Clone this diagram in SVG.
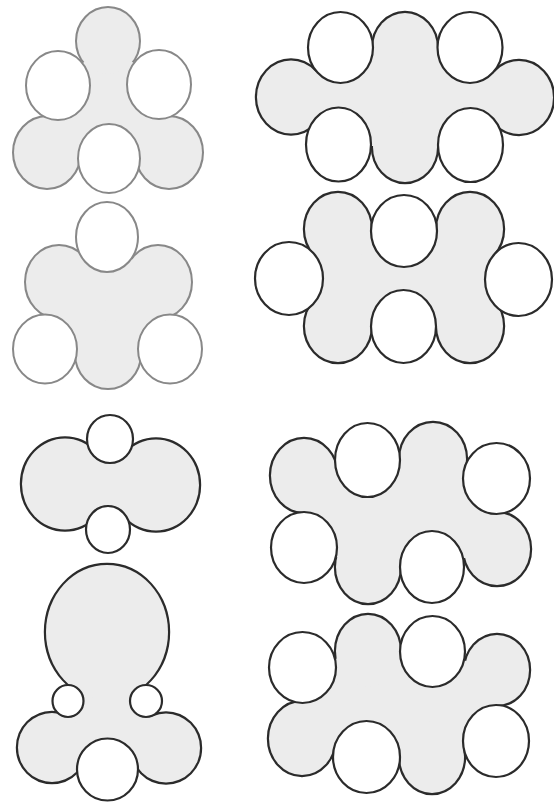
<svg xmlns="http://www.w3.org/2000/svg" xmlns:xlink="http://www.w3.org/1999/xlink" width="554" height="807" viewBox="0 0 554 807">
<style>
.gs{fill:#ececec;stroke:#2b2b2b;stroke-width:4.4}
.gf{fill:#ececec;stroke:none}
.w{fill:#ffffff;stroke:#2b2b2b;stroke-width:2.2}
.light .gs{stroke:#888888;stroke-width:4}
.light .w{stroke:#888888;stroke-width:2}
</style>
<defs>
<g id="f1g"><ellipse cx="108" cy="41" rx="31" ry="33"/><ellipse cx="47" cy="152.5" rx="33" ry="35.5"/><ellipse cx="169" cy="152.5" rx="33" ry="35.5"/></g>
<g id="f2g"><ellipse cx="59" cy="282" rx="33" ry="36"/><ellipse cx="158" cy="282" rx="33" ry="36"/><ellipse cx="108" cy="354" rx="32" ry="34"/></g>
<g id="f3g"><ellipse cx="291" cy="97" rx="34" ry="36.5"/><ellipse cx="405" cy="48" rx="32" ry="35"/><ellipse cx="405" cy="147" rx="32" ry="35"/><ellipse cx="519" cy="97.5" rx="34" ry="36.5"/></g>
<g id="f4g"><ellipse cx="338" cy="229" rx="33" ry="36"/><ellipse cx="470" cy="229" rx="33" ry="36"/><ellipse cx="338" cy="326" rx="33" ry="36"/><ellipse cx="470" cy="326" rx="33" ry="36"/></g>
<g id="f5g"><ellipse cx="65" cy="484" rx="43" ry="45.5"/><ellipse cx="156" cy="485" rx="43" ry="45.5"/></g>
<g id="f6g"><ellipse cx="107" cy="632" rx="61" ry="67"/><ellipse cx="52" cy="747.5" rx="34" ry="34.5"/><ellipse cx="166" cy="748" rx="34" ry="34.5"/></g>
<g id="f7g"><ellipse cx="304" cy="475.5" rx="33" ry="36.5"/><ellipse cx="433" cy="459" rx="33" ry="36"/><ellipse cx="497" cy="549" rx="33" ry="36"/><ellipse cx="368" cy="567" rx="32" ry="36"/></g>
<g id="f8g"><ellipse cx="368" cy="651" rx="32" ry="36"/><ellipse cx="497" cy="670" rx="32" ry="35"/><ellipse cx="432" cy="757" rx="32" ry="36"/><ellipse cx="302" cy="738.5" rx="33" ry="36.5"/></g>
</defs>

<g id="shape1" class="light">
<use xlink:href="#f1g" class="gs"/>
<polygon class="gf" points="108,41 159,85 169,152 109,158 47,152 58,85"/>
<use xlink:href="#f1g" class="gf"/>
<ellipse class="w" cx="58" cy="85.5" rx="32" ry="34.5"/>
<ellipse class="w" cx="159" cy="84.5" rx="32" ry="34.5"/>
<ellipse class="w" cx="109" cy="158.5" rx="31" ry="34.5"/>
</g>

<g id="shape2" class="light">
<use xlink:href="#f2g" class="gs"/>
<polygon class="gf" points="107,237 158,282 170,349 108,354 45,349 59,282"/>
<use xlink:href="#f2g" class="gf"/>
<ellipse class="w" cx="107" cy="237" rx="31" ry="35"/>
<ellipse class="w" cx="45" cy="349" rx="32" ry="34.5"/>
<ellipse class="w" cx="170" cy="349" rx="32" ry="34.5"/>
</g>

<g id="shape3">
<use xlink:href="#f3g" class="gs"/>
<polygon class="gf" points="291,97 340,47 405,48 470,47 519,97 470,145 405,147 339,145"/>
<use xlink:href="#f3g" class="gf"/>
<ellipse class="w" cx="340.5" cy="47.5" rx="32.5" ry="35.5"/>
<ellipse class="w" cx="470" cy="47.5" rx="32.5" ry="35.5"/>
<ellipse class="w" cx="338.5" cy="144.5" rx="32.5" ry="37"/>
<ellipse class="w" cx="470.5" cy="145" rx="32.5" ry="37"/>
</g>

<g id="shape4">
<use xlink:href="#f4g" class="gs"/>
<polygon class="gf" points="338,229 404,231 470,229 518,279 470,326 404,327 338,326 289,279"/>
<use xlink:href="#f4g" class="gf"/>
<ellipse class="w" cx="404" cy="231" rx="33" ry="36"/>
<ellipse class="w" cx="289" cy="278.5" rx="34" ry="36.5"/>
<ellipse class="w" cx="518.5" cy="279.5" rx="33.5" ry="36.5"/>
<ellipse class="w" cx="403.5" cy="326.5" rx="32.5" ry="36.5"/>
</g>

<g id="shape5">
<use xlink:href="#f5g" class="gs"/>
<polygon class="gf" points="65,484 110,439 156,485 108,529"/>
<use xlink:href="#f5g" class="gf"/>
<ellipse class="w" cx="110" cy="439" rx="23" ry="24"/>
<ellipse class="w" cx="108" cy="529.5" rx="22" ry="23.5"/>
</g>

<g id="shape6">
<use xlink:href="#f6g" class="gs"/>
<polygon class="gf" points="107,632 146,701 166,748 107.5,769.5 52,748 68,701"/>
<use xlink:href="#f6g" class="gf"/>
<ellipse class="w" cx="68" cy="701" rx="15.5" ry="16"/>
<ellipse class="w" cx="146" cy="701" rx="16" ry="16"/>
<ellipse class="w" cx="107.5" cy="769.5" rx="30.5" ry="31"/>
</g>

<g id="shape7">
<use xlink:href="#f7g" class="gs"/>
<polygon class="gf" points="304,475 367,460 433,459 497,478 497,549 432,567 368,567 304,547"/>
<use xlink:href="#f7g" class="gf"/>
<ellipse class="w" cx="367.5" cy="460" rx="32.5" ry="37"/>
<ellipse class="w" cx="496.5" cy="478.5" rx="33.5" ry="35.5"/>
<ellipse class="w" cx="432" cy="567" rx="32" ry="36"/>
<ellipse class="w" cx="304" cy="547.5" rx="33" ry="35.5"/>
</g>

<g id="shape8">
<use xlink:href="#f8g" class="gs"/>
<polygon class="gf" points="302,667 368,651 432,651 497,670 496,741 432,757 366,757 302,738"/>
<use xlink:href="#f8g" class="gf"/>
<ellipse class="w" cx="302.5" cy="667.5" rx="33.5" ry="35.5"/>
<ellipse class="w" cx="432.5" cy="651.5" rx="32.5" ry="35.5"/>
<ellipse class="w" cx="496" cy="741" rx="33" ry="36"/>
<ellipse class="w" cx="366.5" cy="757" rx="33.5" ry="36"/>
</g>
</svg>
